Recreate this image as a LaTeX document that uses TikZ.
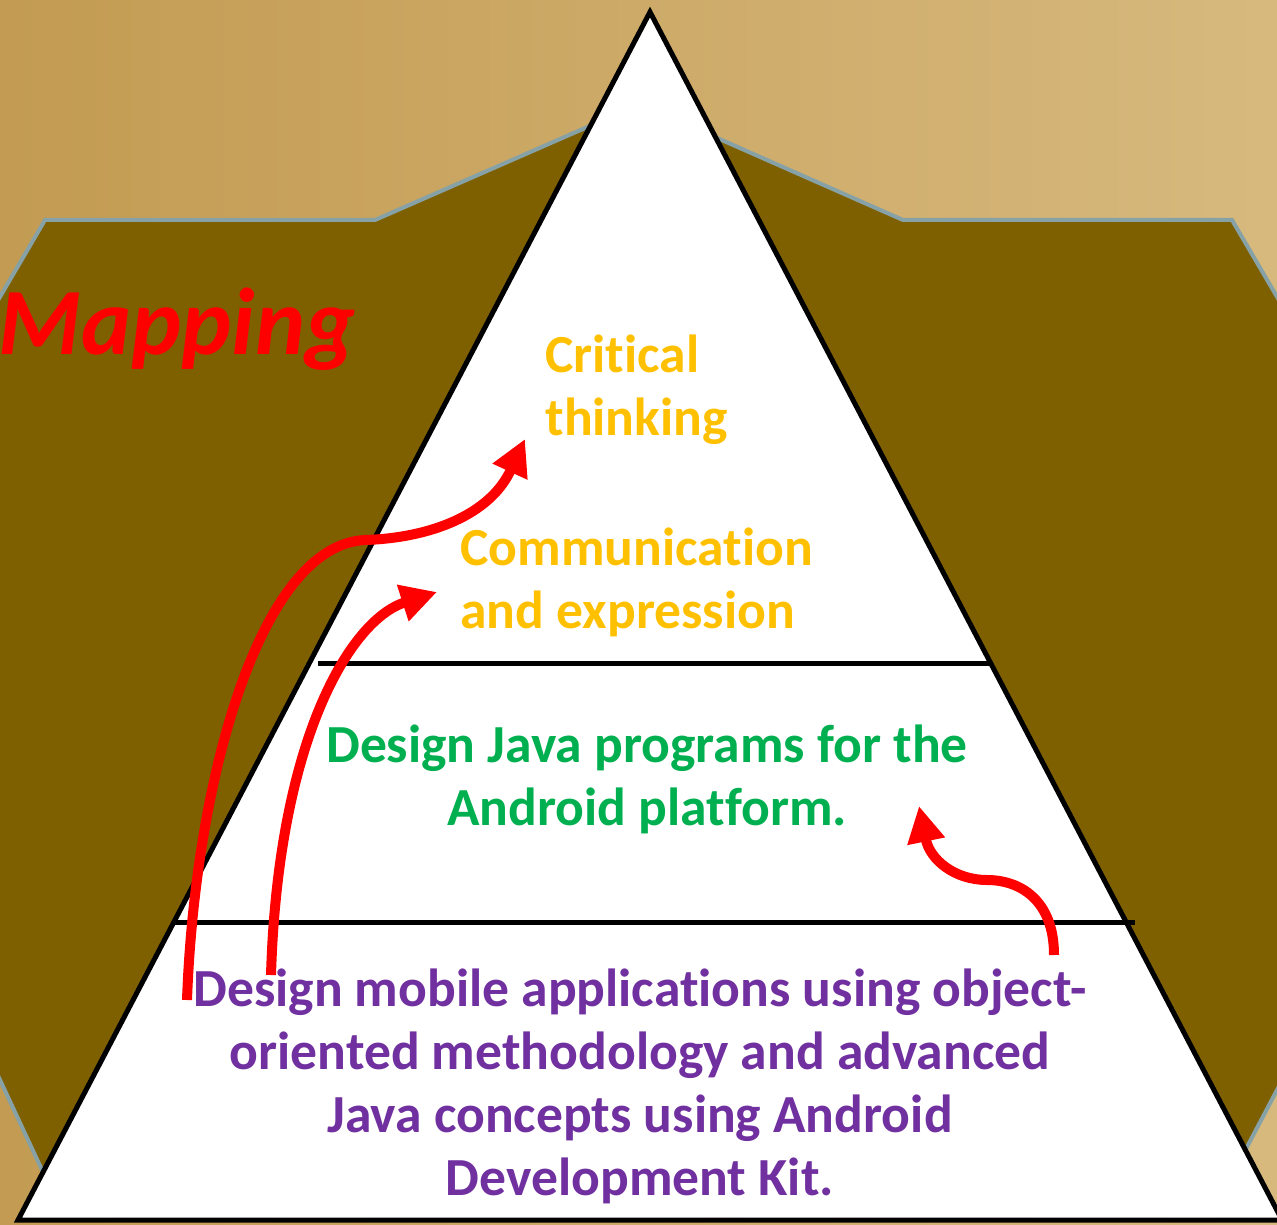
\documentclass[tikz,border=0pt]{standalone}
\usepackage{fontspec}
\setmainfont{Carlito}[Ligatures=NoCommon]
\usetikzlibrary{arrows.meta, positioning, calc}
\definecolor{paperColor}{HTML}{C39B52}
\definecolor{paperLight}{HTML}{D7B97E}
\definecolor{oliveColor}{HTML}{7F6000}
\definecolor{rimColor}{HTML}{87A2A6}
\definecolor{topColor}{HTML}{FFC000}
\definecolor{midColor}{HTML}{00B050}
\definecolor{baseColor}{HTML}{7030A0}
\definecolor{arrowColor}{HTML}{FF0000}

\begin{document}
\begin{tikzpicture}[
    x=0.5pt, y=-0.5pt,
    % Shape Styles
    backdrop/.style={
        fill=oliveColor,
        draw=rimColor,
        line width=2pt,
        line join=miter
    },
    pyramid/.style={
        draw=black,
        fill=white,
        line width=2.5pt,
        line join=miter
    },
    tierLine/.style={
        draw=black,
        line width=2.5pt
    },
    % Text Styles
    levelText/.style={
        font=\bfseries\fontsize{26.8}{31.5}\selectfont,
        inner sep=0pt
    },
    mapTitle/.style={
        font=\bfseries\itshape\fontsize{47.5}{57}\selectfont,
        text=arrowColor,
        inner sep=0pt
    },
    % Arrow Styles
    mapArrow/.style={
        -{Triangle[length=18pt,width=18pt]},
        line width=5pt,
        color=arrowColor
    }
]

    % --- FRAME & BACKGROUND ---
    \useasboundingbox (0,0) rectangle (1277,1224);
    \clip (0,0) rectangle (1277,1224);
    \shade[left color=paperColor, right color=paperLight] (0,0) rectangle (1277,1224);

    % Olive backdrop behind the pyramid
    \filldraw[backdrop] (640,104) -- (375,220) -- (45,220) -- (-20,331) -- (-20,1037)
        -- (56,1200) -- (1219,1200) -- (1297,1052) -- (1297,331) -- (1232,220)
        -- (903,220) -- cycle;

    % --- PYRAMID ---
    \filldraw[pyramid] (650,12) -- (18,1220) -- (1282,1220) -- cycle;
    \draw[tierLine] (318,663) -- (992,663);
    \draw[tierLine] (175,922) -- (1135,922);

    % --- TEXTS ---
    % (multi-line nodes sit on the baseline of their last line)
    \node[mapTitle, anchor=base west] (mapping) at (-2,355) {Mapping};

    \node[levelText, text=topColor, anchor=base west, align=left] (critical) at (545,435) {Critical\\thinking};
    \node[levelText, text=topColor, anchor=base west, align=left] (communication) at (460,628) {Communication\\and expression};
    \node[levelText, text=midColor, anchor=base, align=center] (javaGoal) at (647,825) {Design Java programs for the\\Android platform.};
    \node[levelText, text=baseColor, anchor=base, align=center] (mobileGoal) at (640,1195) {Design mobile applications using object-\\oriented methodology and advanced\\Java concepts using Android\\Development Kit.};

    % --- MAPPING ARROWS ---
    \coordinate (aStart) at (187,1000);
    \coordinate (aBend) at (365,540);
    \coordinate (aEnd) at (525,439);
    \coordinate (bStart) at (271,975);
    \coordinate (bEnd) at (437,592);
    \coordinate (cStart) at (1054,955);
    \coordinate (cBend) at (987,880);
    \coordinate (cEnd) at (919,806);

    % 1. Base -> Critical thinking
    \draw[mapArrow] (aStart) .. controls (195,780) and (260,545) .. (aBend)
        .. controls (430,538) and (490,515) .. (aEnd);

    % 2. Base -> Communication
    \draw[mapArrow] (bStart) .. controls (278,740) and (350,620) .. (bEnd);

    % 3. Base -> Java programs
    \draw[mapArrow] (cStart) .. controls (1054,900) and (1020,880) .. (cBend)
        .. controls (955,880) and (930,860) .. (cEnd);

\end{tikzpicture}
\end{document}
